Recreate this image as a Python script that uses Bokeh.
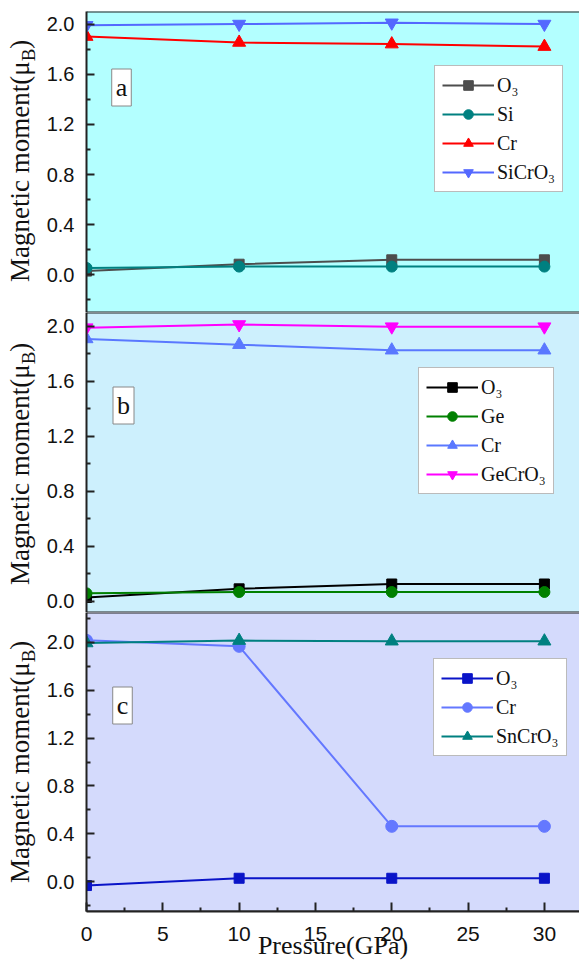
from bokeh.plotting import figure
from bokeh.layouts import column, row
from bokeh.models import Range1d, FixedTicker, Label, Legend, LegendItem, Span, Div
from bokeh.embed import file_html
from bokeh.resources import INLINE

# ---------------- data ----------------
pressure = [0, 10, 20, 30]

a_O3 = [0.03, 0.085, 0.12, 0.12]
a_Si = [0.055, 0.066, 0.066, 0.066]
a_Cr = [1.90, 1.853, 1.84, 1.82]
a_SiCrO3 = [1.99, 2.00, 2.01, 2.00]

b_O3 = [0.029, 0.092, 0.127, 0.127]
b_Ge = [0.059, 0.069, 0.069, 0.069]
b_Cr = [1.908, 1.866, 1.826, 1.826]
b_GeCrO3 = [1.99, 2.013, 1.997, 1.997]

c_O3 = [-0.033, 0.028, 0.028, 0.028]
c_Cr = [2.017, 1.967, 0.462, 0.462]
c_SnCrO3 = [1.995, 2.015, 2.01, 2.01]

y_ticks = [0.0, 0.4, 0.8, 1.2, 1.6, 2.0]
y_minor = [-0.2, 0.2, 0.6, 1.0, 1.4, 1.8, 2.2]
x_ticks = [0, 5, 10, 15, 20, 25, 30]
x_minor = [2.5, 7.5, 12.5, 17.5, 22.5, 27.5]

x_limits = (0, 32.3)
range_a = (-0.30, 2.10)
range_b = (-0.08, 2.10)
range_c = (-0.25, 2.25)

y_title = "Magnetic moment(μ"
y_sub = "B"
x_title = "Pressure(GPa)"

series_a = [("O₃", a_O3, "#4d4d4d", "square", 10),
            ("Si", a_Si, "#008080", "circle", 11),
            ("Cr", a_Cr, "#ff0000", "triangle", 13),
            ("SiCrO₃", a_SiCrO3, "#5468ff", "inverted_triangle", 13)]
series_b = [("O₃", b_O3, "#000000", "square", 10),
            ("Ge", b_Ge, "#008000", "circle", 11),
            ("Cr", b_Cr, "#5a78ff", "triangle", 13),
            ("GeCrO₃", b_GeCrO3, "#ff00ff", "inverted_triangle", 13)]
series_c = [("O₃", c_O3, "#0a14c8", "square", 10),
            ("Cr", c_Cr, "#6478ff", "circle", 12),
            ("SnCrO₃", c_SnCrO3, "#008080", "triangle", 13)]

SERIF = "Liberation Serif"
SANS = "Liberation Sans"
INK = "#111111"
AX = "#222222"
DIV_W = 36


def style_axis(ax, tick_in, font_size, standoff):
    ax.axis_line_color = AX
    ax.axis_line_width = 2
    ax.major_tick_in = tick_in
    ax.major_tick_out = 0
    ax.minor_tick_in = 4
    ax.minor_tick_out = 0
    ax.major_tick_line_width = 2
    ax.minor_tick_line_width = 2
    ax.major_tick_line_color = AX
    ax.minor_tick_line_color = AX
    ax.major_label_text_font = SANS
    ax.major_label_text_font_size = font_size
    ax.major_label_text_color = INK
    ax.major_label_standoff = standoff


def ylabel_div(height, start_y):
    html = ('<div style="display:inline-block; transform-origin:0 0; '
            f'transform:translate(7px,{start_y}px) rotate(-90deg); white-space:nowrap; '
            "font-family:'Liberation Serif'; font-size:27px; line-height:27px; color:#111111;\">"
            f'{y_title}<sub style="font-size:19px; line-height:0;">{y_sub}</sub>)</div>')
    return Div(text=html, width=DIV_W, height=height, margin=0,
               styles={"overflow": "visible"})


def make_panel(letter, series, yr, bg, height, top, bottom, legend_loc, letter_off, last):
    p = figure(width=579 - DIV_W, height=height, x_range=Range1d(*x_limits), y_range=Range1d(*yr),
               output_backend="svg", toolbar_location=None,
               x_axis_location="below" if last else None,
               min_border_left=86 - DIV_W, min_border_right=0,
               min_border_top=top, min_border_bottom=bottom)
    p.background_fill_color = bg
    p.border_fill_color = "white"
    p.outline_line_color = None
    p.grid.visible = False

    ya = p.yaxis[0]
    ya.ticker = FixedTicker(ticks=y_ticks, minor_ticks=y_minor)
    ya.major_label_overrides = {t: f"{t:.1f}" for t in y_ticks}
    style_axis(ya, 8, "20px", 12)

    if last:
        xa = p.xaxis[0]
        xa.ticker = FixedTicker(ticks=x_ticks, minor_ticks=x_minor)
        style_axis(xa, 9, "21px", 15)
        xa.axis_label = x_title
        xa.axis_label_text_font = SERIF
        xa.axis_label_text_font_size = "26px"
        xa.axis_label_text_font_style = "normal"
        xa.axis_label_text_color = INK
        xa.axis_label_standoff = -13

    for loc in yr:
        p.add_layout(Span(location=loc, dimension="width", line_color=AX, line_width=2))

    items = []
    for name, vals, col, mk, sz in series:
        lr = p.line(pressure, vals, line_color=col, line_width=2)
        sr = p.scatter(pressure, vals, marker=mk, size=sz, fill_color=col, line_color=col)
        items.append(LegendItem(label=name, renderers=[lr, sr]))

    leg = Legend(items=items, location=legend_loc, glyph_width=52, glyph_height=24,
                 label_text_font=SERIF, label_text_font_size="20px", label_text_color=INK,
                 label_standoff=3, spacing=5, padding=7, margin=0,
                 border_line_color="#777777", border_line_width=1,
                 background_fill_color="white", background_fill_alpha=1.0)
    p.add_layout(leg, "center")

    p.add_layout(Label(x=0, y=yr[0], x_offset=letter_off[0], y_offset=letter_off[1], text=letter,
                       text_font=SERIF, text_font_size="26px", text_color=INK,
                       text_align="center", text_baseline="middle",
                       background_fill_color="white", border_line_color="#888888",
                       border_line_width=1, padding=4))
    return p


pa = make_panel("a", series_a, range_a, "#b3ffff", 312, 11, 0, (348, 120), (35, 225), False)
pb = make_panel("b", series_b, range_b, "#cdf0fd", 300, 0, 0, (332, 118), (37, 207), False)
pc = make_panel("c", series_c, range_c, "#d4dafc", 353, 0, 54, (347, 155), (36, 206), True)

layout = column(row(ylabel_div(312, 282), pa, spacing=0),
                row(ylabel_div(300, 273), pb, spacing=0),
                row(ylabel_div(353, 271), pc, spacing=0), spacing=0)
open("out.html", "w").write(file_html(layout, INLINE))
